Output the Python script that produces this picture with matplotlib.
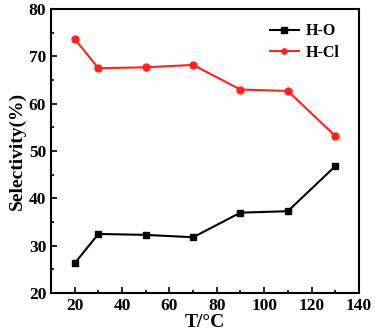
import numpy as np
import matplotlib
matplotlib.use("Agg")
from matplotlib import pyplot as plt
from matplotlib.ticker import MultipleLocator

# 数据
temps = [20, 30, 50, 70, 90, 110, 130]
h_o = [26.3, 32.5, 32.3, 31.8, 37.0, 37.3, 46.8]
h_cl = [73.7, 67.5, 67.7, 68.2, 63.0, 62.7, 53.2]

plt.rcParams['font.family'] = ['Liberation Serif', 'DejaVu Serif']
plt.rcParams['font.weight'] = 'bold'

fig = plt.figure(figsize=(3.75, 3.35), dpi=100)
ax = fig.add_axes([0.136, 0.125, 0.821, 0.848])

ax.plot(temps, h_o, color='black', marker='s', markersize=5, linewidth=1.5, label='H-O')
ax.plot(temps, h_cl, color='#ff2020', marker='o', markersize=5, linewidth=1.5, label='H-Cl')

ax.set_xlim(10, 140)
ax.set_ylim(20, 80)
ax.xaxis.set_major_locator(MultipleLocator(20))
ax.xaxis.set_minor_locator(MultipleLocator(10))
ax.yaxis.set_major_locator(MultipleLocator(10))
ax.yaxis.set_minor_locator(MultipleLocator(5))
ax.tick_params(which='both', direction='in', width=1.2, labelsize=12.5)
ax.tick_params(which='major', length=4)
ax.tick_params(which='minor', length=2)
for sp in ax.spines.values():
    sp.set_linewidth(1.5)

ax.set_xlabel('T/°C', fontsize=14, fontweight='bold', labelpad=0)
ax.set_ylabel('Selectivity(%)', fontsize=14, fontweight='bold', labelpad=2)

ax.legend(loc='upper right', frameon=False, fontsize=11.5, handlelength=1.8,
          handletextpad=0.45, labelspacing=0.35, markerscale=0.75,
          bbox_to_anchor=(0.985, 1.0))

fig.savefig('out.png', dpi=100)
